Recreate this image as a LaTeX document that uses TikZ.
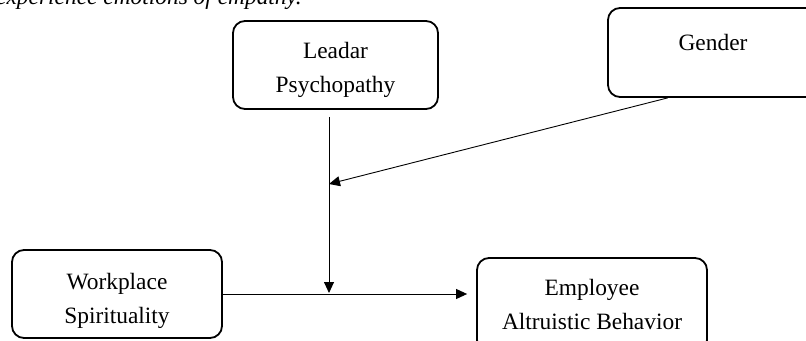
\documentclass[tikz,border=0pt]{standalone}
\usepackage{fontspec}
\setmainfont{Liberation Serif}
\usetikzlibrary{arrows.meta,calc}
\begin{document}
\begin{tikzpicture}[x=0.5pt,y=-0.5pt,
  box/.style={draw, line width=0.9pt, rounded corners=6pt, inner sep=0pt},
  txt/.style={align=center, inner sep=0pt, font=\fontsize{11.7}{17}\selectfont},
  conn/.style={draw, line width=0.45pt, -{Triangle[length=5.5pt,width=5pt]}}]
\useasboundingbox (0,0) rectangle (806,341);
\node[txt, anchor=base east, font=\fontsize{11.7}{14}\selectfont\itshape] (top) at (302,4.5) {experience emotions of empathy.};
\node[box, minimum width=102.5pt, minimum height=44pt] (L) at (335.5,65) {};
\node[txt] (Lt) at (335.5,69.5) {Leadar\\Psychopathy};
\node[box, minimum width=105pt, minimum height=44.5pt] (G) at (713,52.5) {};
\node[txt] (Gt) at (713,43) {Gender};
\node[box, minimum width=105pt, minimum height=44pt] (W) at (117,294) {};
\node[txt] (Wt) at (117,300.5) {Workplace\\Spirituality};
\node[box, minimum width=115pt, minimum height=47pt] (E) at (592,305) {};
\node[txt] (Et) at (592,304.5) {Employee\\Altruistic Behavior};
\coordinate (vtop) at (329,117);
\coordinate (vbot) at (329,293);
\coordinate (mod) at (329,184);
\draw[conn] (vtop) -- (vbot);
\draw[conn] ($(G.south west)!0.286!(G.south east)$) -- (mod);
\draw[conn, shorten >=4.5pt] (W.east) -- (W.east -| E.west);
\end{tikzpicture}
\end{document}
